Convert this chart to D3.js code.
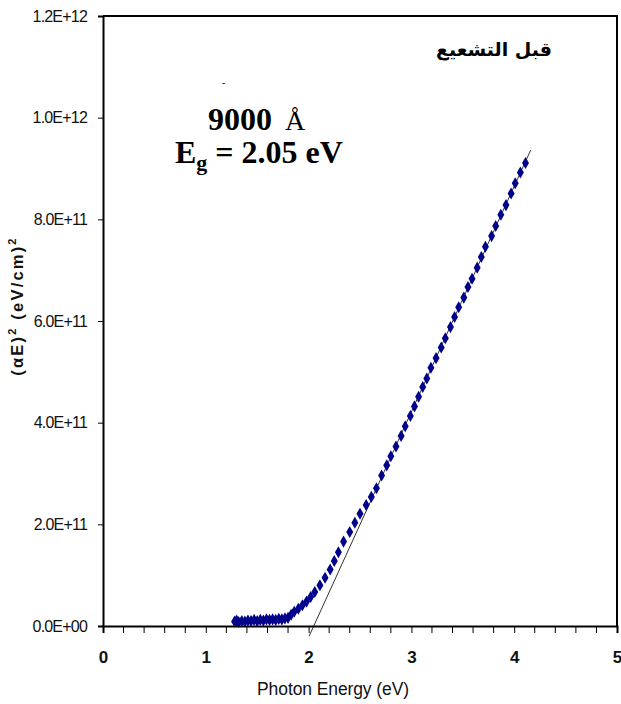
<!DOCTYPE html>
<html>
<head>
<meta charset="utf-8">
<script src="https://d3js.org/d3.v7.min.js"></script>
<style>
  body { margin: 0; background: #fff; }
  svg { display: block; }
</style>
</head>
<body>
<div id="chart"></div>
<script>
// photon energy (eV) and (alpha*E)^2 (eV/cm)^2
var energy = [1.28, 1.30, 1.32, 1.35, 1.38, 1.41, 1.44, 1.47, 1.50, 1.53, 1.56, 1.59, 1.62, 1.65, 1.68, 1.71, 1.74, 1.77, 1.80,
  1.83, 1.86, 1.90, 1.94, 1.98, 2.02, 2.06, 2.11, 2.16, 2.21, 2.25, 2.29, 2.34, 2.40, 2.45, 2.50, 2.56, 2.61, 2.66,
  2.71, 2.76, 2.80, 2.85, 2.90, 2.94, 2.99, 3.03, 3.07, 3.11, 3.15, 3.19, 3.24, 3.29, 3.33, 3.38, 3.42, 3.46, 3.51,
  3.55, 3.59, 3.64, 3.68, 3.72, 3.78, 3.82, 3.87, 3.92, 3.97, 4.01, 4.06, 4.11];
var alphaE2 = [0.009, 0.011, 0.008, 0.010, 0.009, 0.011, 0.010, 0.012, 0.010, 0.012, 0.011, 0.013, 0.012, 0.013, 0.012, 0.014, 0.013, 0.015, 0.016,
  0.022, 0.028, 0.034, 0.041, 0.048, 0.057, 0.067, 0.080, 0.095, 0.111, 0.128, 0.145, 0.166, 0.185, 0.203, 0.221, 0.238, 0.254, 0.271,
  0.296, 0.316, 0.334, 0.353, 0.374, 0.393, 0.413, 0.432, 0.451, 0.470, 0.487, 0.508, 0.527, 0.548, 0.566, 0.588, 0.608, 0.627, 0.646,
  0.667, 0.683, 0.705, 0.726, 0.746, 0.767, 0.787, 0.809, 0.828, 0.851, 0.871, 0.892, 0.911].map(function(v) { return v * 1e12; });

// linear fit (Tauc extrapolation), end points
var fitX = [2.005, 4.16];
var fitY = [-0.02e12, 0.936e12];

var xTicks = [0, 1, 2, 3, 4, 5];
var xMinor = [0.2, 0.4, 0.6, 0.8, 1.2, 1.4, 1.6, 1.8, 2.2, 2.4, 2.6, 2.8, 3.2, 3.4, 3.6, 3.8, 4.2, 4.4, 4.6, 4.8];
var yTicks = [0, 2e11, 4e11, 6e11, 8e11, 1e12, 1.2e12];
var yTickLabels = ["0.0E+00", "2.0E+11", "4.0E+11", "6.0E+11", "8.0E+11", "1.0E+12", "1.2E+12"];

var W = 621, H = 704;
var margin = {top: 16, right: 4, bottom: 78, left: 103};
var width = W - margin.left - margin.right,
    height = H - margin.top - margin.bottom;

var x = d3.scaleLinear().domain([0, 5]).range([0, width]);
var y = d3.scaleLinear().domain([0, 1.2e12]).range([height, 0]);

var svg = d3.select("#chart").append("svg")
    .attr("width", W)
    .attr("height", H)
  .append("g")
    .attr("transform", "translate(" + margin.left + "," + margin.top + ")");

// frame (top and right)
svg.append("path")
  .attr("d", "M0,0H" + width + "V" + height)
  .attr("fill", "none")
  .attr("stroke", "#000")
  .attr("stroke-width", 2);

// fit line
svg.append("line")
  .attr("x1", x(fitX[0])).attr("y1", y(fitY[0]))
  .attr("x2", x(fitX[1])).attr("y2", y(fitY[1]))
  .attr("stroke", "#333")
  .attr("stroke-width", 1);

// data markers
var diamond = d3.symbol().type(d3.symbolDiamond).size(42);
svg.selectAll(".pt")
  .data(energy.map(function(e, i) { return [e, alphaE2[i]]; }))
  .enter().append("path")
    .attr("class", "pt")
    .attr("d", diamond)
    .attr("transform", function(d) { return "translate(" + x(d[0]) + "," + y(d[1]) + ")"; })
    .attr("fill", "#00008b");

// x axis
var xAxis = d3.axisBottom(x).tickValues(xTicks).tickSize(7).tickPadding(18).tickFormat(d3.format("d"));
var gx = svg.append("g")
  .attr("transform", "translate(0," + height + ")")
  .call(xAxis);
gx.selectAll(".minor").data(xMinor).enter().append("line")
  .attr("class", "minor")
  .attr("x1", function(d) { return x(d); }).attr("x2", function(d) { return x(d); })
  .attr("y1", 0).attr("y2", 7)
  .attr("stroke", "#000");
gx.select(".domain").attr("stroke-width", 2);
gx.selectAll("text")
  .attr("font-family", "Liberation Sans, Arial, sans-serif")
  .attr("font-size", 17)
  .attr("font-weight", "bold")
  .attr("fill", "#111");

// y axis
var yAxis = d3.axisLeft(y).tickValues(yTicks).tickSize(5).tickPadding(11)
  .tickFormat(function(d, i) { return yTickLabels[i]; });
var gy = svg.append("g").call(yAxis);
gy.select(".domain").attr("stroke-width", 2);
gy.selectAll("text")
  .attr("font-family", "Liberation Sans, Arial, sans-serif")
  .attr("font-size", 16)
  .attr("letter-spacing", "-0.8px")
  .attr("fill", "#111");

// axis titles
svg.append("text")
  .attr("x", width / 2 - 27)
  .attr("y", height + 69)
  .attr("text-anchor", "middle")
  .attr("font-family", "Liberation Sans, Arial, sans-serif")
  .attr("font-size", 17.5)
  .attr("letter-spacing", "-0.1px")
  .attr("fill", "#111")
  .text("Photon Energy (eV)");

var yt = svg.append("text")
  .attr("transform", "translate(" + (-80) + "," + (height / 2 - 15) + ") rotate(-90)")
  .attr("text-anchor", "middle")
  .attr("font-family", "Liberation Sans, Arial, sans-serif")
  .attr("font-size", 16.5)
  .attr("font-weight", "bold")
  .attr("letter-spacing", "2.2px")
  .attr("fill", "#111");
yt.append("tspan").text("(αE)");
yt.append("tspan").attr("dy", -7).attr("font-size", 11).text("2");
yt.append("tspan").attr("dy", 7).text(" (eV/cm)");
yt.append("tspan").attr("dy", -7).attr("font-size", 11).text("2");

// annotations
svg.append("text")
  .attr("x", 119).attr("y", 70)
  .attr("font-family", "Liberation Sans, Arial, sans-serif")
  .attr("font-size", 10)
  .text("-");

var t1 = svg.append("text")
  .attr("x", 105).attr("y", 114)
  .attr("font-family", "Liberation Serif, Times New Roman, serif")
  .attr("font-size", 32)
  .attr("fill", "#000");
t1.append("tspan").attr("font-weight", "bold").text("9000 ");
t1.append("tspan").attr("font-size", 28).attr("dx", 5).text("Å");

var t2 = svg.append("text")
  .attr("x", 72).attr("y", 147)
  .attr("font-family", "Liberation Serif, Times New Roman, serif")
  .attr("font-size", 32)
  .attr("font-weight", "bold")
  .attr("fill", "#000");
t2.append("tspan").text("E");
t2.append("tspan").attr("dy", 7).attr("font-size", 22).text("g");
t2.append("tspan").attr("dy", -7).text(" = 2.05 eV");

svg.append("text")
  .attr("x", 391).attr("y", 40)
  .attr("text-anchor", "middle")
  .attr("font-family", "DejaVu Sans, sans-serif")
  .attr("font-size", 19)
  .attr("font-weight", "bold")
  .attr("fill", "#000")
  .text("قبل التشعيع");
</script>
</body>
</html>
